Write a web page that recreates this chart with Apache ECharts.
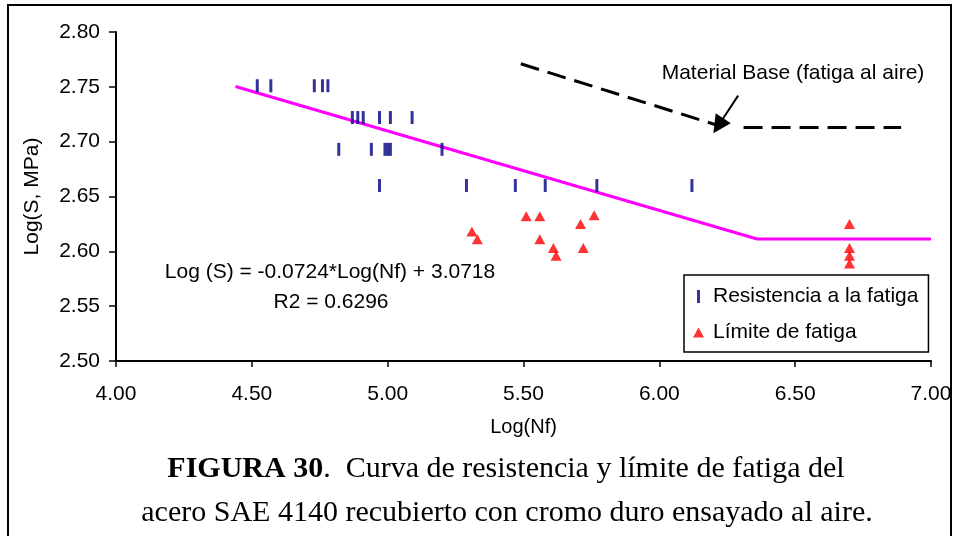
<!DOCTYPE html>
<html>
<head>
<meta charset="utf-8">
<script src="https://cdn.jsdelivr.net/npm/echarts@6/dist/echarts.min.js"></script>
<style>
  html, body { margin: 0; padding: 0; background: #fff; }
  #chart { width: 955px; height: 536px; }
</style>
</head>
<body>
<div id="chart"></div>
<script>
// Fatigue strength tests (log Nf, log S)
const resistLogN = [4.52, 4.57, 4.73, 4.76, 4.78,
                    4.87, 4.89, 4.91, 4.97, 5.01, 5.09,
                    4.82, 4.94, 4.99, 5.00, 5.01, 5.20,
                    4.97, 5.29, 5.47, 5.58, 5.77, 6.12];
const resistLogS = [2.751, 2.751, 2.751, 2.751, 2.751,
                    2.722, 2.722, 2.722, 2.722, 2.722, 2.722,
                    2.693, 2.693, 2.693, 2.693, 2.693, 2.693,
                    2.660, 2.660, 2.660, 2.660, 2.660, 2.660];

// Fatigue limit tests (run-outs)
const limitLogN = [5.31, 5.33, 5.51, 5.56, 5.56, 5.61, 5.62, 5.71, 5.76, 5.72, 6.70, 6.70, 6.70, 6.70];
const limitLogS = [2.618, 2.611, 2.632, 2.632, 2.611, 2.603, 2.596, 2.625, 2.633, 2.603, 2.625, 2.603, 2.596, 2.589];

// Fitted curve: Log(S) = -0.0724*Log(Nf) + 3.0718, then horizontal limit
const trendLogN = [4.44, 6.36, 7.00];
const trendLogS = [2.7503, 2.6113, 2.6113];

// Base material (fatigue in air), dashed reference curve
const baseLogN = [5.49, 6.22, NaN, 6.31, 6.89];
const baseLogS = [2.771, 2.7145, NaN, 2.713, 2.713];

// Arrow pointing at the base material curve
const arrowFrom = [6.29, 2.742];
const arrowTo = [6.217, 2.7145];

const xTicks = { min: 4, max: 7, interval: 0.5 };
const yTicks = { min: 2.5, max: 2.8, interval: 0.05 };

const pairs = (xs, ys) => xs.map((x, i) => (isNaN(x) ? ['-', '-'] : [x, ys[i]]));

const SANS = 'Liberation Sans, Arial, sans-serif';
const SERIF = 'Liberation Serif, Times New Roman, serif';

const chart = echarts.init(document.getElementById('chart'), null, { renderer: 'canvas' });

chart.setOption({
  animation: false,
  backgroundColor: '#ffffff',
  grid: { left: 116, right: 24, top: 32, bottom: 175 },
  xAxis: {
    type: 'value',
    min: xTicks.min, max: xTicks.max, interval: xTicks.interval,
    name: 'Log(Nf)', nameLocation: 'middle', nameGap: 56,
    nameTextStyle: { fontFamily: SANS, fontSize: 20, color: '#000' },
    axisLine: { lineStyle: { color: '#000', width: 2 } },
    axisTick: { show: true, length: 6, lineStyle: { color: '#000', width: 1.5 } },
    axisLabel: { fontFamily: SANS, fontSize: 21, color: '#000', margin: 23,
                 formatter: v => v.toFixed(2) },
    splitLine: { show: false }
  },
  yAxis: {
    type: 'value',
    min: yTicks.min, max: yTicks.max, interval: yTicks.interval,
    name: 'Log(S, MPa)', nameLocation: 'middle', nameGap: 73, nameRotate: 90,
    nameTextStyle: { fontFamily: SANS, fontSize: 21, color: '#000' },
    axisLine: { lineStyle: { color: '#000', width: 2 } },
    axisTick: { show: true, length: 7, lineStyle: { color: '#000', width: 1.5 } },
    axisLabel: { fontFamily: SANS, fontSize: 21, color: '#000', margin: 16,
                 formatter: v => v.toFixed(2) },
    splitLine: { show: false }
  },
  legend: {
    data: [
      { name: 'Resistencia a la fatiga', icon: 'path://M0 0H3V13H0Z' },
      { name: 'Límite de fatiga', icon: 'path://M5 0L10 9H0Z' }
    ],
    orient: 'vertical',
    left: 684, top: 275,
    itemWidth: 11, itemHeight: 13, itemGap: 15,
    padding: [11, 10, 9, 9],
    borderColor: '#000', borderWidth: 1.5,
    backgroundColor: '#fff',
    textStyle: { fontFamily: SANS, fontSize: 21, color: '#000', padding: [0, 0, 0, 4] },
    selectedMode: false
  },
  series: [
    {
      name: 'Curva',
      type: 'line',
      data: pairs(trendLogN, trendLogS),
      symbol: 'none',
      lineStyle: { color: '#FF00FF', width: 3 },
      silent: true, z: 2
    },
    {
      name: 'Material Base',
      type: 'line',
      data: pairs(baseLogN, baseLogS),
      connectNulls: false,
      symbol: 'none',
      lineStyle: { color: '#000', width: 3, type: [19, 9] },
      silent: true, z: 2,
      markLine: {
        silent: true,
        symbol: ['none', 'triangle'],
        symbolSize: 18,
        label: { show: false },
        lineStyle: { color: '#000', width: 2, type: 'solid' },
        data: [[{ coord: arrowFrom }, { coord: arrowTo }]]
      }
    },
    {
      name: 'Resistencia a la fatiga',
      type: 'scatter',
      data: pairs(resistLogN, resistLogS),
      symbol: 'rect',
      symbolSize: [3, 13],
      itemStyle: { color: '#000080' },
      z: 3
    },
    {
      name: 'Límite de fatiga',
      type: 'scatter',
      data: pairs(limitLogN, limitLogS),
      symbol: 'triangle',
      symbolSize: [11, 10],
      itemStyle: { color: '#FF0000' },
      z: 3
    }
  ],
  graphic: [
    {
      type: 'rect', silent: true, z: 0,
      shape: { x: 8, y: 5, width: 943, height: 540 },
      style: { fill: 'none', stroke: '#000', lineWidth: 2 }
    },
    {
      type: 'text', silent: true, z: 10,
      x: 793, y: 73,
      style: { text: 'Material Base (fatiga al aire)', font: '21px ' + SANS,
               fill: '#000', textAlign: 'center', textVerticalAlign: 'middle' }
    },
    {
      type: 'text', silent: true, z: 10,
      x: 330, y: 272,
      style: { text: 'Log (S) = -0.0724*Log(Nf) + 3.0718', font: '21px ' + SANS,
               fill: '#000', textAlign: 'center', textVerticalAlign: 'middle' }
    },
    {
      type: 'text', silent: true, z: 10,
      x: 331, y: 302,
      style: { text: 'R2 = 0.6296', font: '21px ' + SANS,
               fill: '#000', textAlign: 'center', textVerticalAlign: 'middle' }
    },
    {
      type: 'text', silent: true, z: 10,
      x: 506, y: 469,
      style: {
        text: '{b|FIGURA 30}{r|.  Curva de resistencia y límite de fatiga del}',
        textAlign: 'center', textVerticalAlign: 'middle',
        rich: {
          b: { font: 'bold 30px ' + SERIF, fill: '#000' },
          r: { font: '30px ' + SERIF, fill: '#000' }
        }
      }
    },
    {
      type: 'text', silent: true, z: 10,
      x: 507, y: 513,
      style: { text: 'acero SAE 4140 recubierto con cromo duro ensayado al aire.',
               font: '30px ' + SERIF, fill: '#000',
               textAlign: 'center', textVerticalAlign: 'middle' }
    }
  ]
});
</script>
</body>
</html>
